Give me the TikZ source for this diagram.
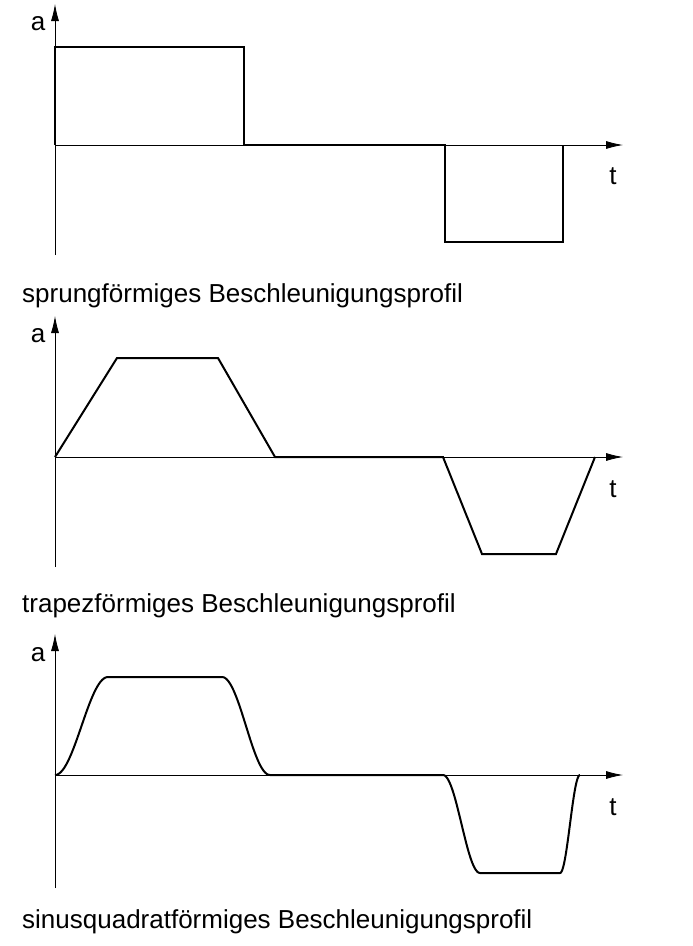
\documentclass[tikz,border=0pt]{standalone}
\usepackage{fontspec}
\setmainfont{Liberation Sans}
\usetikzlibrary{arrows.meta}
\begin{document}
\begin{tikzpicture}[x=1pt,y=-1pt]
			\tikzstyle{axis} = [draw, line width=0.8pt, -{Latex[length=17pt,width=8pt]}]
			\tikzstyle{profile} = [draw, line width=2pt, line join=miter]
			\tikzstyle{lbl} = [inner sep=0pt, font=\fontsize{26}{30}\selectfont]
			\useasboundingbox (0,0) rectangle (693,946);
			% sprungfoermig
			\coordinate (O1) at (55,145);
			\draw[axis] (55,255) -- (55,4);
			\draw[axis] (O1) -- (623,145);
			\node[lbl] (a1) at (38,24) {a};
			\node[lbl] (t1) at (613,176) {t};
			\draw[profile] (O1) -- (55,47) -- (244,47) -- (244,145) -- (445,145) -- (445,242) -- (563,242) -- (563,145);
			\node[lbl, anchor=west] (L1) at (22,296) {sprungförmiges Beschleunigungsprofil};
			% trapezfoermig
			\coordinate (O2) at (55,457);
			\draw[axis] (55,567) -- (55,316);
			\draw[axis] (O2) -- (623,457);
			\node[lbl] (a2) at (38,336) {a};
			\node[lbl] (t2) at (613,489) {t};
			\draw[profile] (O2) -- (117,358) -- (218,358) -- (275,457) -- (443,457) -- (482,554) -- (556,554) -- (595,457);
			\node[lbl, anchor=west] (L2) at (22,606) {trapezförmiges Beschleunigungsprofil};
			% sinusquadratfoermig
			\coordinate (O3) at (55,775);
			\draw[axis] (55,888) -- (55,634);
			\draw[axis] (O3) -- (623,775);
			\node[lbl] (a3) at (38,655) {a};
			\node[lbl] (t3) at (613,807) {t};
			\draw[profile] plot[domain=0:1, samples=30] ({55+53*\x},{775-98*sin(90*\x)^2})
				-- (222,677) -- plot[domain=0:1, samples=30] ({222+48*\x},{677+98*sin(90*\x)^2})
				-- (443,775) -- plot[domain=0:1, samples=30] ({443+37*\x},{775+98*sin(90*\x)^2})
				-- (560,873) -- plot[domain=0:1, samples=30] ({560+20*\x},{873-98*sin(90*\x)^2});
			\node[lbl, anchor=west] (L3) at (22,922) {sinusquadratförmiges Beschleunigungsprofil};
\end{tikzpicture}
\end{document}
